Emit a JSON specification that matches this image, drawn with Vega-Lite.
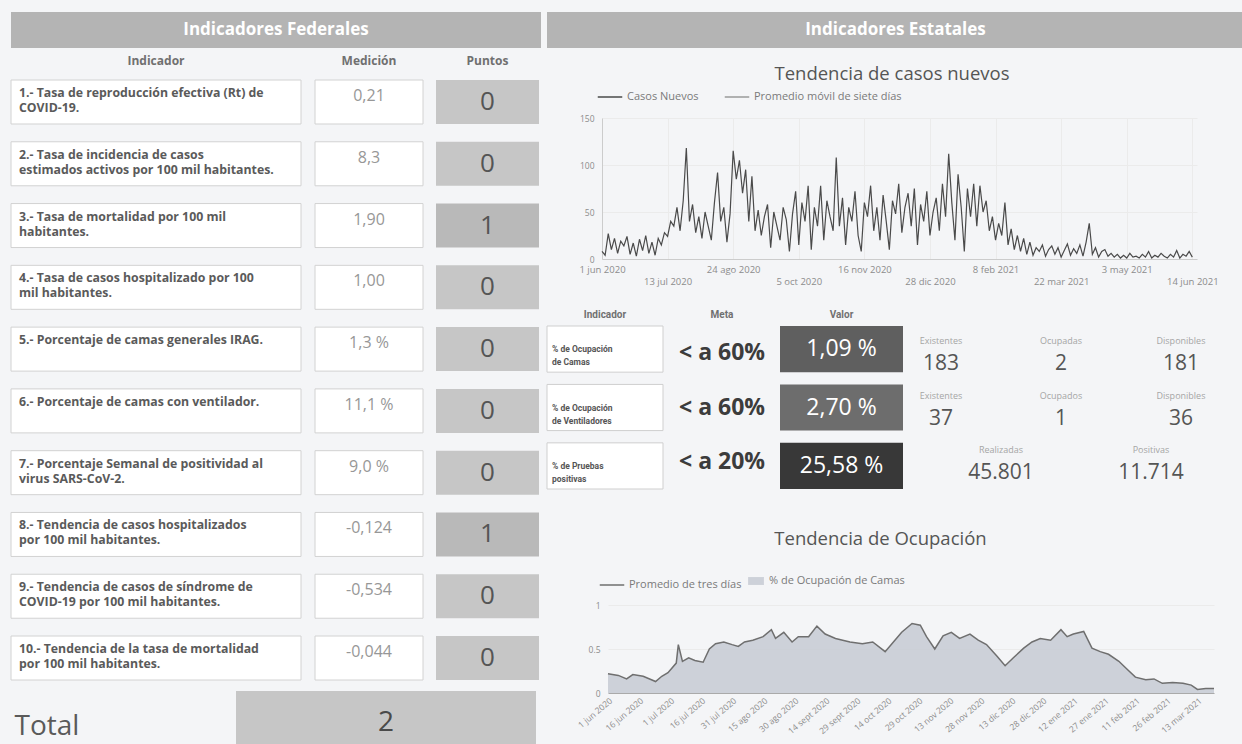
{
  "$schema": "https://vega.github.io/schema/vega-lite/v6.json",
  "background": "#f4f5f7",
  "padding": {"left": 10, "top": 12, "right": 0, "bottom": 0},
  "spacing": 5,
  "resolve": {"scale": {"color": "independent", "fill": "independent"}, "legend": {"color": "independent", "fill": "independent"}},
  "datasets": {
    "federales": [
      {"n": 1, "indicador": ["1.- Tasa de reproducción efectiva (Rt) de", "COVID-19."], "medicion": "0,21", "puntos": 0},
      {"n": 2, "indicador": ["2.- Tasa de incidencia de casos", "estimados activos por 100 mil habitantes."], "medicion": "8,3", "puntos": 0},
      {"n": 3, "indicador": ["3.- Tasa de mortalidad por 100 mil", "habitantes."], "medicion": "1,90", "puntos": 1},
      {"n": 4, "indicador": ["4.- Tasa de casos hospitalizado por 100", "mil habitantes."], "medicion": "1,00", "puntos": 0},
      {"n": 5, "indicador": ["5.- Porcentaje de camas generales IRAG."], "medicion": "1,3 %", "puntos": 0},
      {"n": 6, "indicador": ["6.- Porcentaje de camas con ventilador."], "medicion": "11,1 %", "puntos": 0},
      {"n": 7, "indicador": ["7.- Porcentaje Semanal de positividad al", "virus SARS-CoV-2."], "medicion": "9,0 %", "puntos": 0},
      {"n": 8, "indicador": ["8.- Tendencia de casos hospitalizados", "por 100 mil habitantes."], "medicion": "-0,124", "puntos": 1},
      {"n": 9, "indicador": ["9.- Tendencia de casos de síndrome de", "COVID-19 por  100 mil habitantes."], "medicion": "-0,534", "puntos": 0},
      {"n": 10, "indicador": ["10.- Tendencia de la tasa de mortalidad", "por 100 mil habitantes."], "medicion": "-0,044", "puntos": 0}
    ],
    "estatales": [
      {"n": 1, "indicador": ["% de Ocupación", "de Camas"], "meta": "< a 60%", "valor": "1,09 %"},
      {"n": 2, "indicador": ["% de Ocupación", "de Ventiladores"], "meta": "< a 60%", "valor": "2,70 %"},
      {"n": 3, "indicador": ["% de Pruebas", "positivas"], "meta": "< a 20%", "valor": "25,58 %"}
    ],
    "estadisticas": [
      {"n": 1, "medida": "existentes", "etiqueta": "Existentes", "cantidad": "183"},
      {"n": 1, "medida": "ocupadas", "etiqueta": "Ocupadas", "cantidad": "2"},
      {"n": 1, "medida": "disponibles", "etiqueta": "Disponibles", "cantidad": "181"},
      {"n": 2, "medida": "existentes", "etiqueta": "Existentes", "cantidad": "37"},
      {"n": 2, "medida": "ocupadas", "etiqueta": "Ocupados", "cantidad": "1"},
      {"n": 2, "medida": "disponibles", "etiqueta": "Disponibles", "cantidad": "36"},
      {"n": 3, "medida": "realizadas", "etiqueta": "Realizadas", "cantidad": "45.801"},
      {"n": 3, "medida": "positivas", "etiqueta": "Positivas", "cantidad": "11.714"}
    ],
    "casos": [
      {"fecha": "2020-06-01", "casos": 8}, {"fecha": "2020-06-03", "casos": 4}, {"fecha": "2020-06-05", "casos": 27}, {"fecha": "2020-06-07", "casos": 10}, {"fecha": "2020-06-09", "casos": 22}, {"fecha": "2020-06-11", "casos": 6}, {"fecha": "2020-06-13", "casos": 19}, {"fecha": "2020-06-15", "casos": 14}, {"fecha": "2020-06-17", "casos": 24}, {"fecha": "2020-06-19", "casos": 5}, {"fecha": "2020-06-21", "casos": 17}, {"fecha": "2020-06-23", "casos": 3}, {"fecha": "2020-06-25", "casos": 21}, {"fecha": "2020-06-27", "casos": 9}, {"fecha": "2020-06-29", "casos": 25},
      {"fecha": "2020-07-01", "casos": 6}, {"fecha": "2020-07-03", "casos": 18}, {"fecha": "2020-07-05", "casos": 4}, {"fecha": "2020-07-07", "casos": 22}, {"fecha": "2020-07-09", "casos": 15}, {"fecha": "2020-07-11", "casos": 28}, {"fecha": "2020-07-13", "casos": 24}, {"fecha": "2020-07-15", "casos": 40}, {"fecha": "2020-07-17", "casos": 35}, {"fecha": "2020-07-19", "casos": 55}, {"fecha": "2020-07-21", "casos": 30}, {"fecha": "2020-07-23", "casos": 62}, {"fecha": "2020-07-25", "casos": 118}, {"fecha": "2020-07-27", "casos": 40}, {"fecha": "2020-07-29", "casos": 58}, {"fecha": "2020-07-31", "casos": 28},
      {"fecha": "2020-08-02", "casos": 45}, {"fecha": "2020-08-04", "casos": 22}, {"fecha": "2020-08-06", "casos": 50}, {"fecha": "2020-08-08", "casos": 35}, {"fecha": "2020-08-10", "casos": 20}, {"fecha": "2020-08-12", "casos": 60}, {"fecha": "2020-08-14", "casos": 92}, {"fecha": "2020-08-16", "casos": 40}, {"fecha": "2020-08-18", "casos": 55}, {"fecha": "2020-08-20", "casos": 18}, {"fecha": "2020-08-22", "casos": 48}, {"fecha": "2020-08-24", "casos": 115}, {"fecha": "2020-08-26", "casos": 85}, {"fecha": "2020-08-28", "casos": 105}, {"fecha": "2020-08-30", "casos": 70},
      {"fecha": "2020-09-01", "casos": 95}, {"fecha": "2020-09-03", "casos": 40}, {"fecha": "2020-09-05", "casos": 88}, {"fecha": "2020-09-07", "casos": 30}, {"fecha": "2020-09-09", "casos": 52}, {"fecha": "2020-09-11", "casos": 25}, {"fecha": "2020-09-13", "casos": 45}, {"fecha": "2020-09-15", "casos": 58}, {"fecha": "2020-09-17", "casos": 12}, {"fecha": "2020-09-19", "casos": 50}, {"fecha": "2020-09-21", "casos": 35}, {"fecha": "2020-09-23", "casos": 20}, {"fecha": "2020-09-25", "casos": 55}, {"fecha": "2020-09-27", "casos": 42}, {"fecha": "2020-09-29", "casos": 8},
      {"fecha": "2020-10-01", "casos": 48}, {"fecha": "2020-10-03", "casos": 72}, {"fecha": "2020-10-05", "casos": 15}, {"fecha": "2020-10-07", "casos": 60}, {"fecha": "2020-10-09", "casos": 40}, {"fecha": "2020-10-11", "casos": 78}, {"fecha": "2020-10-13", "casos": 10}, {"fecha": "2020-10-15", "casos": 55}, {"fecha": "2020-10-17", "casos": 35}, {"fecha": "2020-10-19", "casos": 78}, {"fecha": "2020-10-21", "casos": 20}, {"fecha": "2020-10-23", "casos": 62}, {"fecha": "2020-10-25", "casos": 45}, {"fecha": "2020-10-27", "casos": 30}, {"fecha": "2020-10-29", "casos": 108}, {"fecha": "2020-10-31", "casos": 35},
      {"fecha": "2020-11-02", "casos": 65}, {"fecha": "2020-11-04", "casos": 15}, {"fecha": "2020-11-06", "casos": 55}, {"fecha": "2020-11-08", "casos": 40}, {"fecha": "2020-11-10", "casos": 72}, {"fecha": "2020-11-12", "casos": 25}, {"fecha": "2020-11-14", "casos": 8}, {"fecha": "2020-11-16", "casos": 60}, {"fecha": "2020-11-18", "casos": 45}, {"fecha": "2020-11-20", "casos": 78}, {"fecha": "2020-11-22", "casos": 30}, {"fecha": "2020-11-24", "casos": 55}, {"fecha": "2020-11-26", "casos": 20}, {"fecha": "2020-11-28", "casos": 68}, {"fecha": "2020-11-30", "casos": 40},
      {"fecha": "2020-12-02", "casos": 10}, {"fecha": "2020-12-04", "casos": 62}, {"fecha": "2020-12-06", "casos": 48}, {"fecha": "2020-12-08", "casos": 80}, {"fecha": "2020-12-10", "casos": 28}, {"fecha": "2020-12-12", "casos": 55}, {"fecha": "2020-12-14", "casos": 70}, {"fecha": "2020-12-16", "casos": 35}, {"fecha": "2020-12-18", "casos": 75}, {"fecha": "2020-12-20", "casos": 15}, {"fecha": "2020-12-22", "casos": 58}, {"fecha": "2020-12-24", "casos": 40}, {"fecha": "2020-12-26", "casos": 72}, {"fecha": "2020-12-28", "casos": 25}, {"fecha": "2020-12-30", "casos": 50},
      {"fecha": "2021-01-01", "casos": 65}, {"fecha": "2021-01-03", "casos": 30}, {"fecha": "2021-01-05", "casos": 80}, {"fecha": "2021-01-07", "casos": 45}, {"fecha": "2021-01-09", "casos": 112}, {"fecha": "2021-01-11", "casos": 60}, {"fecha": "2021-01-13", "casos": 20}, {"fecha": "2021-01-15", "casos": 90}, {"fecha": "2021-01-17", "casos": 55}, {"fecha": "2021-01-19", "casos": 8}, {"fecha": "2021-01-21", "casos": 75}, {"fecha": "2021-01-23", "casos": 45}, {"fecha": "2021-01-25", "casos": 80}, {"fecha": "2021-01-27", "casos": 35}, {"fecha": "2021-01-29", "casos": 78}, {"fecha": "2021-01-31", "casos": 50},
      {"fecha": "2021-02-02", "casos": 62}, {"fecha": "2021-02-04", "casos": 30}, {"fecha": "2021-02-06", "casos": 45}, {"fecha": "2021-02-08", "casos": 20}, {"fecha": "2021-02-10", "casos": 38}, {"fecha": "2021-02-12", "casos": 25}, {"fecha": "2021-02-14", "casos": 60}, {"fecha": "2021-02-16", "casos": 15}, {"fecha": "2021-02-18", "casos": 32}, {"fecha": "2021-02-20", "casos": 10}, {"fecha": "2021-02-22", "casos": 25}, {"fecha": "2021-02-24", "casos": 8}, {"fecha": "2021-02-26", "casos": 22}, {"fecha": "2021-02-28", "casos": 5},
      {"fecha": "2021-03-02", "casos": 18}, {"fecha": "2021-03-04", "casos": 4}, {"fecha": "2021-03-06", "casos": 12}, {"fecha": "2021-03-08", "casos": 8}, {"fecha": "2021-03-10", "casos": 15}, {"fecha": "2021-03-12", "casos": 3}, {"fecha": "2021-03-14", "casos": 10}, {"fecha": "2021-03-16", "casos": 14}, {"fecha": "2021-03-18", "casos": 5}, {"fecha": "2021-03-20", "casos": 12}, {"fecha": "2021-03-22", "casos": 2}, {"fecha": "2021-03-24", "casos": 9}, {"fecha": "2021-03-26", "casos": 16}, {"fecha": "2021-03-28", "casos": 4}, {"fecha": "2021-03-30", "casos": 11},
      {"fecha": "2021-04-01", "casos": 6}, {"fecha": "2021-04-03", "casos": 15}, {"fecha": "2021-04-05", "casos": 3}, {"fecha": "2021-04-07", "casos": 18}, {"fecha": "2021-04-09", "casos": 38}, {"fecha": "2021-04-11", "casos": 5}, {"fecha": "2021-04-13", "casos": 12}, {"fecha": "2021-04-15", "casos": 2}, {"fecha": "2021-04-17", "casos": 8}, {"fecha": "2021-04-19", "casos": 10}, {"fecha": "2021-04-21", "casos": 3}, {"fecha": "2021-04-23", "casos": 6}, {"fecha": "2021-04-25", "casos": 2}, {"fecha": "2021-04-27", "casos": 5}, {"fecha": "2021-04-29", "casos": 1},
      {"fecha": "2021-05-01", "casos": 4}, {"fecha": "2021-05-03", "casos": 1}, {"fecha": "2021-05-05", "casos": 6}, {"fecha": "2021-05-07", "casos": 2}, {"fecha": "2021-05-09", "casos": 3}, {"fecha": "2021-05-11", "casos": 1}, {"fecha": "2021-05-13", "casos": 5}, {"fecha": "2021-05-15", "casos": 2}, {"fecha": "2021-05-17", "casos": 8}, {"fecha": "2021-05-19", "casos": 1}, {"fecha": "2021-05-21", "casos": 4}, {"fecha": "2021-05-23", "casos": 2}, {"fecha": "2021-05-25", "casos": 6}, {"fecha": "2021-05-27", "casos": 3}, {"fecha": "2021-05-29", "casos": 1}, {"fecha": "2021-05-31", "casos": 5},
      {"fecha": "2021-06-02", "casos": 2}, {"fecha": "2021-06-04", "casos": 9}, {"fecha": "2021-06-06", "casos": 1}, {"fecha": "2021-06-08", "casos": 5}, {"fecha": "2021-06-10", "casos": 3}, {"fecha": "2021-06-12", "casos": 8}, {"fecha": "2021-06-14", "casos": 2}
    ],
    "ocupacion": [
      {"fecha": "2020-06-01", "ocupacion": 0.22}, {"fecha": "2020-06-06", "ocupacion": 0.20}, {"fecha": "2020-06-10", "ocupacion": 0.16}, {"fecha": "2020-06-13", "ocupacion": 0.21}, {"fecha": "2020-06-18", "ocupacion": 0.19}, {"fecha": "2020-06-22", "ocupacion": 0.15}, {"fecha": "2020-06-24", "ocupacion": 0.13}, {"fecha": "2020-06-27", "ocupacion": 0.19}, {"fecha": "2020-06-30", "ocupacion": 0.23},
      {"fecha": "2020-07-04", "ocupacion": 0.34}, {"fecha": "2020-07-05", "ocupacion": 0.55}, {"fecha": "2020-07-07", "ocupacion": 0.36}, {"fecha": "2020-07-10", "ocupacion": 0.40}, {"fecha": "2020-07-13", "ocupacion": 0.37}, {"fecha": "2020-07-17", "ocupacion": 0.35}, {"fecha": "2020-07-20", "ocupacion": 0.50}, {"fecha": "2020-07-23", "ocupacion": 0.56}, {"fecha": "2020-07-27", "ocupacion": 0.58}, {"fecha": "2020-07-31", "ocupacion": 0.55},
      {"fecha": "2020-08-03", "ocupacion": 0.53}, {"fecha": "2020-08-06", "ocupacion": 0.58}, {"fecha": "2020-08-10", "ocupacion": 0.60}, {"fecha": "2020-08-15", "ocupacion": 0.64}, {"fecha": "2020-08-19", "ocupacion": 0.72}, {"fecha": "2020-08-21", "ocupacion": 0.62}, {"fecha": "2020-08-25", "ocupacion": 0.69}, {"fecha": "2020-08-29", "ocupacion": 0.58},
      {"fecha": "2020-09-01", "ocupacion": 0.64}, {"fecha": "2020-09-06", "ocupacion": 0.64}, {"fecha": "2020-09-10", "ocupacion": 0.76}, {"fecha": "2020-09-14", "ocupacion": 0.67}, {"fecha": "2020-09-19", "ocupacion": 0.62}, {"fecha": "2020-09-26", "ocupacion": 0.58},
      {"fecha": "2020-10-02", "ocupacion": 0.56}, {"fecha": "2020-10-07", "ocupacion": 0.58}, {"fecha": "2020-10-13", "ocupacion": 0.47}, {"fecha": "2020-10-17", "ocupacion": 0.58}, {"fecha": "2020-10-21", "ocupacion": 0.69}, {"fecha": "2020-10-26", "ocupacion": 0.79}, {"fecha": "2020-10-30", "ocupacion": 0.77},
      {"fecha": "2020-11-02", "ocupacion": 0.64}, {"fecha": "2020-11-06", "ocupacion": 0.50}, {"fecha": "2020-11-10", "ocupacion": 0.65}, {"fecha": "2020-11-14", "ocupacion": 0.69}, {"fecha": "2020-11-18", "ocupacion": 0.62}, {"fecha": "2020-11-23", "ocupacion": 0.67}, {"fecha": "2020-11-27", "ocupacion": 0.60},
      {"fecha": "2020-12-01", "ocupacion": 0.55}, {"fecha": "2020-12-06", "ocupacion": 0.42}, {"fecha": "2020-12-10", "ocupacion": 0.31}, {"fecha": "2020-12-14", "ocupacion": 0.40}, {"fecha": "2020-12-19", "ocupacion": 0.51}, {"fecha": "2020-12-23", "ocupacion": 0.58}, {"fecha": "2020-12-27", "ocupacion": 0.62},
      {"fecha": "2021-01-01", "ocupacion": 0.60}, {"fecha": "2021-01-06", "ocupacion": 0.72}, {"fecha": "2021-01-09", "ocupacion": 0.64}, {"fecha": "2021-01-12", "ocupacion": 0.67}, {"fecha": "2021-01-17", "ocupacion": 0.70}, {"fecha": "2021-01-21", "ocupacion": 0.51}, {"fecha": "2021-01-25", "ocupacion": 0.47}, {"fecha": "2021-01-29", "ocupacion": 0.44},
      {"fecha": "2021-02-03", "ocupacion": 0.36}, {"fecha": "2021-02-07", "ocupacion": 0.27}, {"fecha": "2021-02-11", "ocupacion": 0.18}, {"fecha": "2021-02-16", "ocupacion": 0.15}, {"fecha": "2021-02-20", "ocupacion": 0.16}, {"fecha": "2021-02-24", "ocupacion": 0.11},
      {"fecha": "2021-03-01", "ocupacion": 0.12}, {"fecha": "2021-03-06", "ocupacion": 0.11}, {"fecha": "2021-03-10", "ocupacion": 0.09}, {"fecha": "2021-03-13", "ocupacion": 0.04}, {"fecha": "2021-03-17", "ocupacion": 0.05}, {"fecha": "2021-03-21", "ocupacion": 0.05}
    ]
  },
  "hconcat": [
    {
      "spacing": 6,
      "vconcat": [
        {
          "width": 530, "height": 36,
          "view": {"fill": "#b4b4b4"},
          "data": {"values": [{"seccion": "Indicadores Federales"}]},
          "mark": {"type": "text", "color": "#ffffff", "fontSize": 17, "fontWeight": "bold"},
          "encoding": {"text": {"field": "seccion"}}
        },
        {
          "spacing": 10,
          "vconcat": [
            {
              "spacing": 12,
              "data": {"name": "federales"},
              "hconcat": [
                {
                  "width": 290, "height": 600,
                  "title": {"text": "Indicador", "offset": 12},
                  "encoding": {"y": {"field": "n", "type": "ordinal", "axis": null, "scale": {"paddingInner": 0.288, "paddingOuter": 0}}},
                  "layer": [
                    {"mark": {"type": "rect", "fill": "#ffffff", "stroke": "#d2d2d2"}},
                    {"mark": {"type": "text", "align": "left", "baseline": "top", "dx": -137, "dy": 7, "fontSize": 12.3, "fontWeight": "bold", "color": "#5a5a5a", "lineHeight": 15},
                     "encoding": {"y": {"field": "n", "type": "ordinal", "axis": null, "bandPosition": 0}, "text": {"field": "indicador"}}}
                  ]
                },
                {
                  "width": 108, "height": 600,
                  "title": {"text": "Medición", "offset": 12},
                  "encoding": {"y": {"field": "n", "type": "ordinal", "axis": null, "scale": {"paddingInner": 0.288, "paddingOuter": 0}}},
                  "layer": [
                    {"mark": {"type": "rect", "fill": "#ffffff", "stroke": "#d2d2d2"}},
                    {"mark": {"type": "text", "baseline": "middle", "dy": 16, "fontSize": 16, "color": "#979797"},
                     "encoding": {"y": {"field": "n", "type": "ordinal", "axis": null, "bandPosition": 0}, "text": {"field": "medicion"}}}
                  ]
                },
                {
                  "width": 103, "height": 600,
                  "title": {"text": "Puntos", "offset": 12},
                  "encoding": {"y": {"field": "n", "type": "ordinal", "axis": null, "scale": {"paddingInner": 0.288, "paddingOuter": 0}}},
                  "layer": [
                    {"mark": {"type": "rect"},
                     "encoding": {"fill": {"field": "puntos", "type": "ordinal", "scale": {"domain": [0, 1], "range": ["#c6c6c6", "#b9b9b9"]}, "legend": null}}},
                    {"mark": {"type": "text", "fontSize": 26, "color": "#555555"},
                     "encoding": {"text": {"field": "puntos"}}}
                  ]
                }
              ]
            },
            {
              "spacing": 153,
              "hconcat": [
                {
                  "width": 72, "height": 54,
                  "data": {"values": [{"etiqueta": "Total"}]},
                  "mark": {"type": "text", "fontSize": 28, "color": "#5a5a5a", "dy": 9},
                  "encoding": {"text": {"field": "etiqueta"}}
                },
                {
                  "width": 300, "height": 54,
                  "view": {"fill": "#c6c6c6"},
                  "data": {"values": [{"total": 2}]},
                  "mark": {"type": "text", "fontSize": 28, "color": "#4a4a4a", "dy": 5},
                  "encoding": {"text": {"field": "total"}}
                }
              ]
            }
          ]
        }
      ]
    },
    {
      "columns": 1,
      "align": "none",
      "spacing": 16,
      "resolve": {"scale": {"color": "independent", "fill": "independent"}, "legend": {"color": "independent", "fill": "independent"}},
      "concat": [
        {
          "width": 697, "height": 36,
          "view": {"fill": "#b4b4b4"},
          "data": {"values": [{"seccion": "Indicadores Estatales"}]},
          "mark": {"type": "text", "color": "#ffffff", "fontSize": 17, "fontWeight": "bold"},
          "encoding": {"text": {"field": "seccion"}}
        },
        {
          "columns": 1,
          "align": "none",
          "spacing": 23,
          "resolve": {"scale": {"color": "independent", "fill": "independent"}, "legend": {"color": "independent", "fill": "independent"}},
          "concat": [
            {
              "width": 650, "height": 141,
              "title": {"text": "Tendencia de casos nuevos", "fontSize": 18.5, "fontWeight": "normal", "color": "#555555", "offset": 1, "dx": 20, "frame": "group"},
              "data": {"name": "casos"},
              "mark": {"type": "line", "strokeWidth": 1.2},
              "encoding": {
                "x": {
                  "field": "fecha", "type": "temporal",
                  "scale": {"type": "utc", "range": [55, 650], "domain": [{"year": 2020, "month": 6, "date": 1, "utc": true}, {"year": 2021, "month": 6, "date": 17, "utc": true}]},
                  "axis": {
                    "title": null, "grid": true, "labelFlush": false, "labelOverlap": false, "labelPadding": 5, "labelLineHeight": 12, "labelBaseline": "top", "labelFontSize": 9.5,
                    "values": [
                      {"year": 2020, "month": 6, "date": 1, "utc": true}, {"year": 2020, "month": 7, "date": 13, "utc": true},
                      {"year": 2020, "month": 8, "date": 24, "utc": true}, {"year": 2020, "month": 10, "date": 5, "utc": true},
                      {"year": 2020, "month": 11, "date": 16, "utc": true}, {"year": 2020, "month": 12, "date": 28, "utc": true},
                      {"year": 2021, "month": 2, "date": 8, "utc": true}, {"year": 2021, "month": 3, "date": 22, "utc": true},
                      {"year": 2021, "month": 5, "date": 3, "utc": true}, {"year": 2021, "month": 6, "date": 14, "utc": true}
                    ],
                    "labelExpr": "(round((datum.value - utc(2020,5,1)) / 3628800000) % 2 == 1) ? ['', utcdate(datum.value) + ' ' + ['ene','feb','mar','abr','may','jun','jul','ago','sept','oct','nov','dic'][utcmonth(datum.value)] + ' ' + utcyear(datum.value)] : utcdate(datum.value) + ' ' + ['ene','feb','mar','abr','may','jun','jul','ago','sept','oct','nov','dic'][utcmonth(datum.value)] + ' ' + utcyear(datum.value)"
                  }
                },
                "y": {
                  "field": "casos", "type": "quantitative",
                  "scale": {"domain": [0, 150]},
                  "axis": {"title": null, "values": [0, 50, 100, 150], "offset": -55, "labelPadding": 8, "grid": true}
                },
                "color": {
                  "datum": "Casos Nuevos", "type": "nominal",
                  "scale": {"domain": ["Casos Nuevos", "Promedio móvil de siete días"], "range": ["#4a4a4a", "#9a9a9a"]},
                  "legend": {"orient": "none", "legendX": 50, "legendY": -34, "direction": "horizontal", "symbolType": "stroke", "symbolSize": 600}
                }
              }
            },
            {
              "columns": 1,
              "align": "none",
              "spacing": 39,
              "resolve": {"scale": {"color": "independent", "fill": "independent"}, "legend": {"color": "independent", "fill": "independent"}},
              "concat": [
                {
                  "spacing": 8,
                  "data": {"name": "estatales"},
                  "hconcat": [
                    {
                      "width": 116, "height": 163,
                      "title": {"text": "Indicador", "offset": 6, "font": "Roboto", "fontSize": 10},
                      "encoding": {"y": {"field": "n", "type": "ordinal", "axis": null, "scale": {"paddingInner": 0.21, "paddingOuter": 0}}},
                      "layer": [
                        {"mark": {"type": "rect", "fill": "#ffffff", "stroke": "#cfcfcf"}},
                        {"mark": {"type": "text", "align": "left", "dx": -53, "font": "Roboto", "fontSize": 8.5, "fontWeight": "bold", "color": "#555555", "lineHeight": 13},
                         "encoding": {"text": {"field": "indicador"}}}
                      ]
                    },
                    {
                      "width": 100, "height": 163,
                      "title": {"text": "Meta", "offset": 6, "font": "Roboto", "fontSize": 10},
                      "mark": {"type": "text", "fontSize": 23, "fontWeight": "bold", "color": "#3c3c3c"},
                      "encoding": {
                        "y": {"field": "n", "type": "ordinal", "axis": null, "scale": {"paddingInner": 0.21, "paddingOuter": 0}},
                        "text": {"field": "meta"}
                      }
                    },
                    {
                      "width": 123, "height": 163,
                      "title": {"text": "Valor", "offset": 6, "font": "Roboto", "fontSize": 10},
                      "encoding": {"y": {"field": "n", "type": "ordinal", "axis": null, "scale": {"paddingInner": 0.21, "paddingOuter": 0}}},
                      "layer": [
                        {"mark": {"type": "rect"},
                         "encoding": {"fill": {"field": "n", "type": "ordinal", "scale": {"range": ["#5f5f5f", "#6d6d6d", "#383838"]}, "legend": null}}},
                        {"mark": {"type": "text", "fontSize": 23, "color": "#ffffff"},
                         "encoding": {"text": {"field": "valor"}}}
                      ]
                    },
                    {
                      "width": 300, "height": 163,
                      "title": {"text": " ", "offset": 6, "font": "Roboto", "fontSize": 10},
                      "data": {"name": "estadisticas"},
                      "encoding": {
                        "y": {"field": "n", "type": "ordinal", "axis": null, "scale": {"domain": [1, 2, 3], "paddingInner": 0.21, "paddingOuter": 0}},
                        "x": {"field": "medida", "type": "nominal", "axis": null,
                              "scale": {"type": "point", "padding": 1, "domain": ["existentes", "_1", "realizadas", "_2", "ocupadas", "_3", "_4", "positivas", "disponibles"]}}
                      },
                      "layer": [
                        {"mark": {"type": "text", "fontSize": 9, "color": "#a5a5a5", "dy": -12},
                         "encoding": {"text": {"field": "etiqueta"}}},
                        {"mark": {"type": "text", "fontSize": 21, "color": "#555555", "dy": 11},
                         "encoding": {"text": {"field": "cantidad"}}}
                      ]
                    }
                  ]
                },
                {
                  "width": 667, "height": 88,
                  "title": {"text": "Tendencia de Ocupación", "fontSize": 18.5, "fontWeight": "normal", "color": "#555555", "offset": 24, "frame": "group"},
                  "data": {"name": "ocupacion"},
                  "encoding": {
                    "x": {
                      "field": "fecha", "type": "temporal",
                      "scale": {"type": "utc", "range": [61, 667], "domain": [{"year": 2020, "month": 6, "date": 1, "utc": true}, {"year": 2021, "month": 3, "date": 21, "utc": true}]},
                      "axis": {
                        "title": null, "grid": false, "labelAngle": -40, "labelFlush": false, "labelOverlap": false, "labelPadding": 3, "domainColor": "#aaaaaa",
                        "values": [
                          {"year": 2020, "month": 6, "date": 1, "utc": true}, {"year": 2020, "month": 6, "date": 16, "utc": true},
                          {"year": 2020, "month": 7, "date": 1, "utc": true}, {"year": 2020, "month": 7, "date": 16, "utc": true},
                          {"year": 2020, "month": 7, "date": 31, "utc": true}, {"year": 2020, "month": 8, "date": 15, "utc": true},
                          {"year": 2020, "month": 8, "date": 30, "utc": true}, {"year": 2020, "month": 9, "date": 14, "utc": true},
                          {"year": 2020, "month": 9, "date": 29, "utc": true}, {"year": 2020, "month": 10, "date": 14, "utc": true},
                          {"year": 2020, "month": 10, "date": 29, "utc": true}, {"year": 2020, "month": 11, "date": 13, "utc": true},
                          {"year": 2020, "month": 11, "date": 28, "utc": true}, {"year": 2020, "month": 12, "date": 13, "utc": true},
                          {"year": 2020, "month": 12, "date": 28, "utc": true}, {"year": 2021, "month": 1, "date": 12, "utc": true},
                          {"year": 2021, "month": 1, "date": 27, "utc": true}, {"year": 2021, "month": 2, "date": 11, "utc": true},
                          {"year": 2021, "month": 2, "date": 26, "utc": true}, {"year": 2021, "month": 3, "date": 13, "utc": true}
                        ],
                        "labelExpr": "utcdate(datum.value) + ' ' + ['ene','feb','mar','abr','may','jun','jul','ago','sept','oct','nov','dic'][utcmonth(datum.value)] + ' ' + utcyear(datum.value)"
                      }
                    },
                    "y": {
                      "field": "ocupacion", "type": "quantitative",
                      "scale": {"domain": [0, 1]},
                      "axis": {"title": null, "values": [0, 0.5, 1], "format": ".1~f", "offset": -61, "labelPadding": 8, "grid": true, "domain": false}
                    }
                  },
                  "layer": [
                    {"mark": {"type": "area", "opacity": 0.9},
                     "encoding": {"fill": {"datum": "% de Ocupación de Camas", "type": "nominal", "scale": {"range": ["#c9cdd5"]},
                                           "legend": {"orient": "none", "legendX": 200, "legendY": -33, "direction": "horizontal", "symbolType": "M-1,-0.5H1V0.5H-1Z", "symbolSize": 250}}}},
                    {"mark": {"type": "line", "strokeWidth": 1.5},
                     "encoding": {"color": {"datum": "Promedio de tres días", "type": "nominal", "scale": {"range": ["#6f6f6f"]},
                                            "legend": {"orient": "none", "legendX": 52, "legendY": -33, "direction": "horizontal", "symbolType": "stroke", "symbolSize": 600}}}}
                  ]
                }
              ]
            }
          ]
        }
      ]
    }
  ],
  "config": {
    "font": "Open Sans",
    "view": {"stroke": null},
    "title": {"fontSize": 12, "fontWeight": "bold", "color": "#707070", "anchor": "middle", "frame": "group"},
    "axis": {"labelFontSize": 8.5, "labelColor": "#8c8c8c", "ticks": false, "domainColor": "#cccccc", "gridColor": "#ebebeb"},
    "legend": {"orient": "top", "direction": "horizontal", "title": null, "labelFontSize": 11, "labelColor": "#7a7a7a", "columnPadding": 22, "symbolStrokeWidth": 1.5}
  }
}
